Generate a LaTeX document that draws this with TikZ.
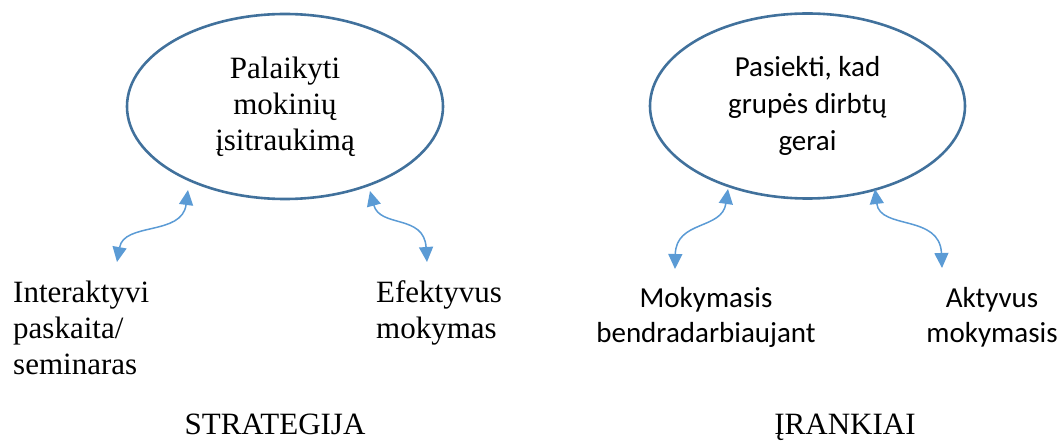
\documentclass[tikz,border=0pt]{standalone}
\usepackage{fontspec}
\setmainfont{Liberation Serif}
\newfontfamily\calib{Carlito}
\usetikzlibrary{arrows.meta,shapes.geometric}
\definecolor{ellcol}{HTML}{41719C}
\definecolor{arrcol}{HTML}{5B9BD5}
\tikzset{
  goal/.style={ellipse, draw=ellcol, line width=2.6pt, inner sep=0pt, align=center},
  serifbig/.style={font=\fontsize{31}{36}\selectfont},
  calbig/.style={font=\calib\fontsize{29}{37}\selectfont},
  calsmall/.style={font=\calib\fontsize{29}{35}\selectfont},
  lbl/.style={inner sep=0pt, align=left},
  lblc/.style={inner sep=0pt, align=center},
  link/.style={draw=arrcol, line width=1.5pt, {Triangle[length=15pt,width=14pt]}-{Triangle[length=15pt,width=14pt]}},
}
\begin{document}
\begin{tikzpicture}[x=1pt,y=-1pt]
\useasboundingbox (0,0) rectangle (1061,441);
% ellipses
\node[goal, serifbig, minimum width=316pt, minimum height=185pt] (e1) at (285,106.5)
  {Palaikyti\\mokinių\\įsitraukimą};
\node[goal, calbig, minimum width=315pt, minimum height=185pt] (e2) at (807.5,106)
  {Pasiekti, kad\\grupės dirbtų\\gerai};
% labels (base anchor = baseline of last line)
\node[lbl, serifbig, anchor=base west] (l1) at (13,374) {Interaktyvi\\paskaita/\\seminaras};
\node[lbl, serifbig, anchor=base west] (l2) at (376,338) {Efektyvus\\mokymas};
\node[lblc, calsmall, anchor=base] (l3) at (706,342) {Mokymasis\\bendradarbiaujant};
\node[lblc, calsmall, anchor=base] (l4) at (992,342) {Aktyvus\\mokymasis};
\node[lblc, serifbig, anchor=base] (t1) at (275,434) {STRATEGIJA};
\node[lblc, serifbig, anchor=base] (t2) at (845,434) {ĮRANKIAI};
% arrow end points
\coordinate (a1s) at (117,262); \coordinate (a1e) at (188,190);
\coordinate (a2s) at (370,191); \coordinate (a2e) at (427,262);
\coordinate (a3s) at (728,189); \coordinate (a3e) at (675,269);
\coordinate (a4s) at (875,189); \coordinate (a4e) at (942,268);
\draw[link] (a1s) .. controls (124,222) and (182,236) .. (a1e);
\draw[link] (a2s) .. controls (380,228) and (424,214) .. (a2e);
\draw[link] (a3s) .. controls (722,230) and (676,220) .. (a3e);
\draw[link] (a4s) .. controls (880,230) and (940,214) .. (a4e);
\end{tikzpicture}
\end{document}
